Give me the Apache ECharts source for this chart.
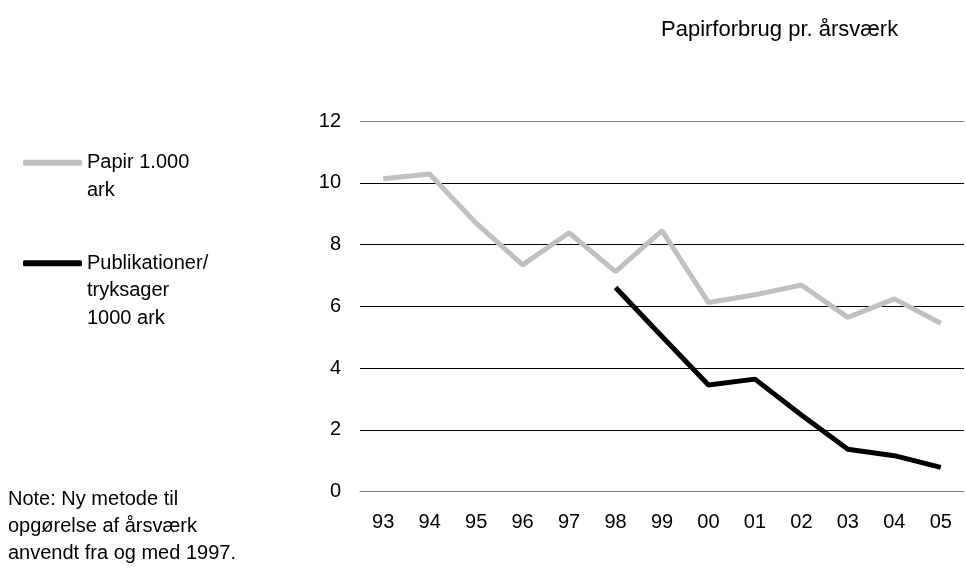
<!DOCTYPE html>
<html>
<head>
<meta charset="utf-8">
<script src="https://cdn.jsdelivr.net/npm/echarts@6/dist/echarts.min.js"></script>
<style>
  html, body { margin: 0; padding: 0; background: #fff; }
  #chart { width: 966px; height: 571px; }
</style>
</head>
<body>
<div id="chart"></div>
<script>
var years = ['93', '94', '95', '96', '97', '98', '99', '00', '01', '02', '03', '04', '05'];
var papir = [10.13, 10.28, 8.69, 7.34, 8.38, 7.12, 8.45, 6.12, 6.37, 6.69, 5.64, 6.24, 5.45];
var publikationer = [null, null, null, null, null, 6.61, 5.02, 3.45, 3.64, 2.48, 1.37, 1.16, 0.78];
var seriesNames = ['Papir 1.000 ark', 'Publikationer/ tryksager 1000 ark'];
// blank lines on top keep the icon level with the first line of text
var legendLines = {
  'Papir 1.000 ark': ' \nPapir 1.000\nark',
  'Publikationer/ tryksager 1000 ark': ' \n \nPublikationer/\ntryksager\n1000 ark'
};

var font = 'Liberation Sans, Arial, sans-serif';
var chart = echarts.init(document.getElementById('chart'));

chart.setOption({
  backgroundColor: '#fff',
  animation: false,
  textStyle: { fontFamily: font },
  title: {
    text: 'Papirforbrug pr. årsværk',
    left: 656, top: 14,
    textStyle: { fontFamily: font, fontSize: 22, fontWeight: 'normal', color: '#000' }
  },
  legend: [
    {
      data: [seriesNames[0]],
      left: 23, top: 121.5, padding: 0,
      icon: 'roundRect', itemWidth: 59, itemHeight: 6,
      formatter: function (n) { return legendLines[n]; },
      textStyle: { fontFamily: font, fontSize: 20, color: '#000', lineHeight: 27.5 }
    },
    {
      data: [seriesNames[1]],
      left: 23, top: 194.5, padding: 0,
      icon: 'roundRect', itemWidth: 59, itemHeight: 6,
      formatter: function (n) { return legendLines[n]; },
      textStyle: { fontFamily: font, fontSize: 20, color: '#000', lineHeight: 27.5 }
    }
  ],
  graphic: [{
    type: 'text', left: 8, top: 485.5,
    style: {
      text: 'Note: Ny metode til\nopgørelse af årsværk\nanvendt fra og med 1997.',
      font: '20px ' + font, fill: '#000', lineHeight: 27
    }
  }],
  grid: { left: 360, right: 2, top: 121, bottom: 79.5 },
  xAxis: {
    type: 'category',
    data: years,
    boundaryGap: true,
    axisLine: { show: true, lineStyle: { color: '#808080', width: 1 } },
    axisTick: { show: false },
    axisLabel: { fontFamily: font, fontSize: 20, color: '#000', margin: 21 }
  },
  yAxis: {
    type: 'value',
    min: 0, max: 12, interval: 2,
    axisLine: { show: false },
    axisTick: { show: false },
    axisLabel: { fontFamily: font, fontSize: 20, color: '#000', margin: 19 },
    splitLine: {
      lineStyle: { color: ['#808080', '#000', '#000', '#000', '#000', '#000', '#808080'], width: 1 }
    }
  },
  series: [
    {
      name: seriesNames[0], type: 'line', data: papir,
      symbol: 'none', lineStyle: { color: '#c0c0c0', width: 5 },
      itemStyle: { color: '#c0c0c0' }
    },
    {
      name: seriesNames[1], type: 'line', data: publikationer,
      symbol: 'none', lineStyle: { color: '#000', width: 5 },
      itemStyle: { color: '#000' }
    }
  ]
});
</script>
</body>
</html>
